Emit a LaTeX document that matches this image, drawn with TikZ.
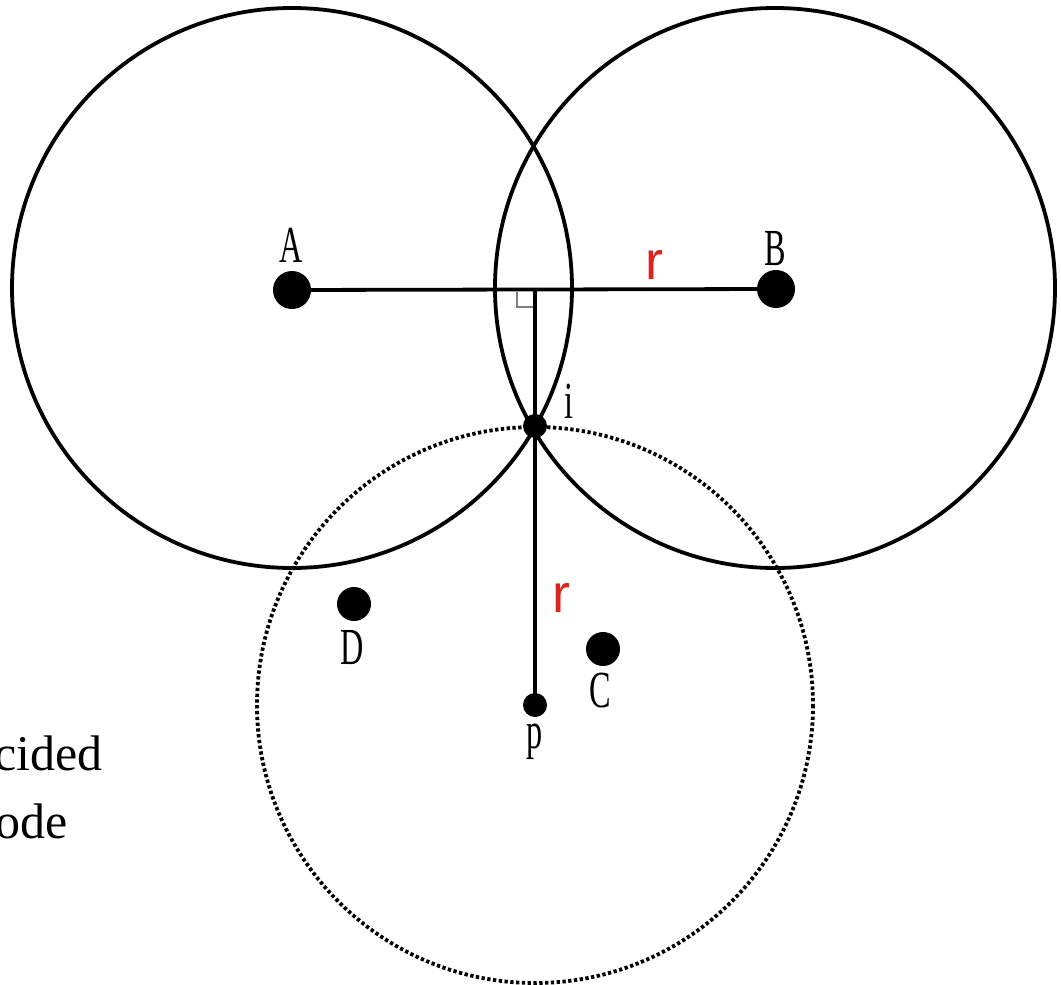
\documentclass[tikz,border=0pt]{standalone}
\usepackage{fontspec}
\setmainfont{Liberation Serif}
\newfontfamily\lblfont[FakeStretch=0.62]{Liberation Serif}
\newfontfamily\rfont{Liberation Sans}
\definecolor{rred}{RGB}{220,35,30}
\begin{document}
\begin{tikzpicture}[x=1pt,y=-1pt,
  ring/.style={draw=black,line width=3.8pt},
  dotring/.style={draw=black,line width=3.8pt,dash pattern=on 3.3pt off 2.5pt},
  seg/.style={draw=black,line width=3.8pt},
  bigdot/.style={circle,fill=black,inner sep=0pt,minimum size=38pt},
  middot/.style={circle,fill=black,inner sep=0pt,minimum size=34pt},
  smalldot/.style={circle,fill=black,inner sep=0pt,minimum size=24pt},
  lbl/.style={inner sep=0pt,font=\fontsize{52}{52}\selectfont\lblfont},
  rlbl/.style={inner sep=0pt,text=rred,font=\fontsize{54}{54}\selectfont\rfont},
  side/.style={inner sep=0pt,font=\fontsize{50}{60}\selectfont}]
\useasboundingbox (0,0) rectangle (1061,985);
% circles
\draw[ring] (292,288) circle[radius=280];
\draw[ring] (775,288) circle[radius=280];
\draw[dotring] (535,705) circle[radius=278];
% points
\node[bigdot] (A) at (292,290) {};
\node[bigdot] (B) at (776,289) {};
\node[middot] (D) at (354,604) {};
\node[middot] (C) at (603,649) {};
\node[smalldot] (i) at (535,426) {};
\node[smalldot] (p) at (535,705) {};
\coordinate (m) at (535,290);
% segments
\draw[seg] (A.center) -- (B.center);
\draw[seg] (m) -- (p.center);
% right angle mark
\draw[gray,line width=1.4pt] (517,292) -- (517,307) -- (533,307);
% labels
\node[lbl,anchor=base] (lA) at (291,262) {A};
\node[lbl,anchor=base] (lB) at (775,265) {B};
\node[lbl,anchor=base] (lD) at (352,664) {D};
\node[lbl,anchor=base] (lC) at (600,707) {C};
\node[lbl,anchor=base] (li) at (569,418) {i};
\node[lbl,anchor=base] (lp) at (535,748) {p};
\node[rlbl,anchor=base] (r1) at (654,279) {r};
\node[rlbl,anchor=base] (r2) at (561,612) {r};
\node[side,anchor=base east] (t1) at (103,770) {cided};
\node[side,anchor=base east] (t2) at (68,838) {ode};
\end{tikzpicture}
\end{document}
